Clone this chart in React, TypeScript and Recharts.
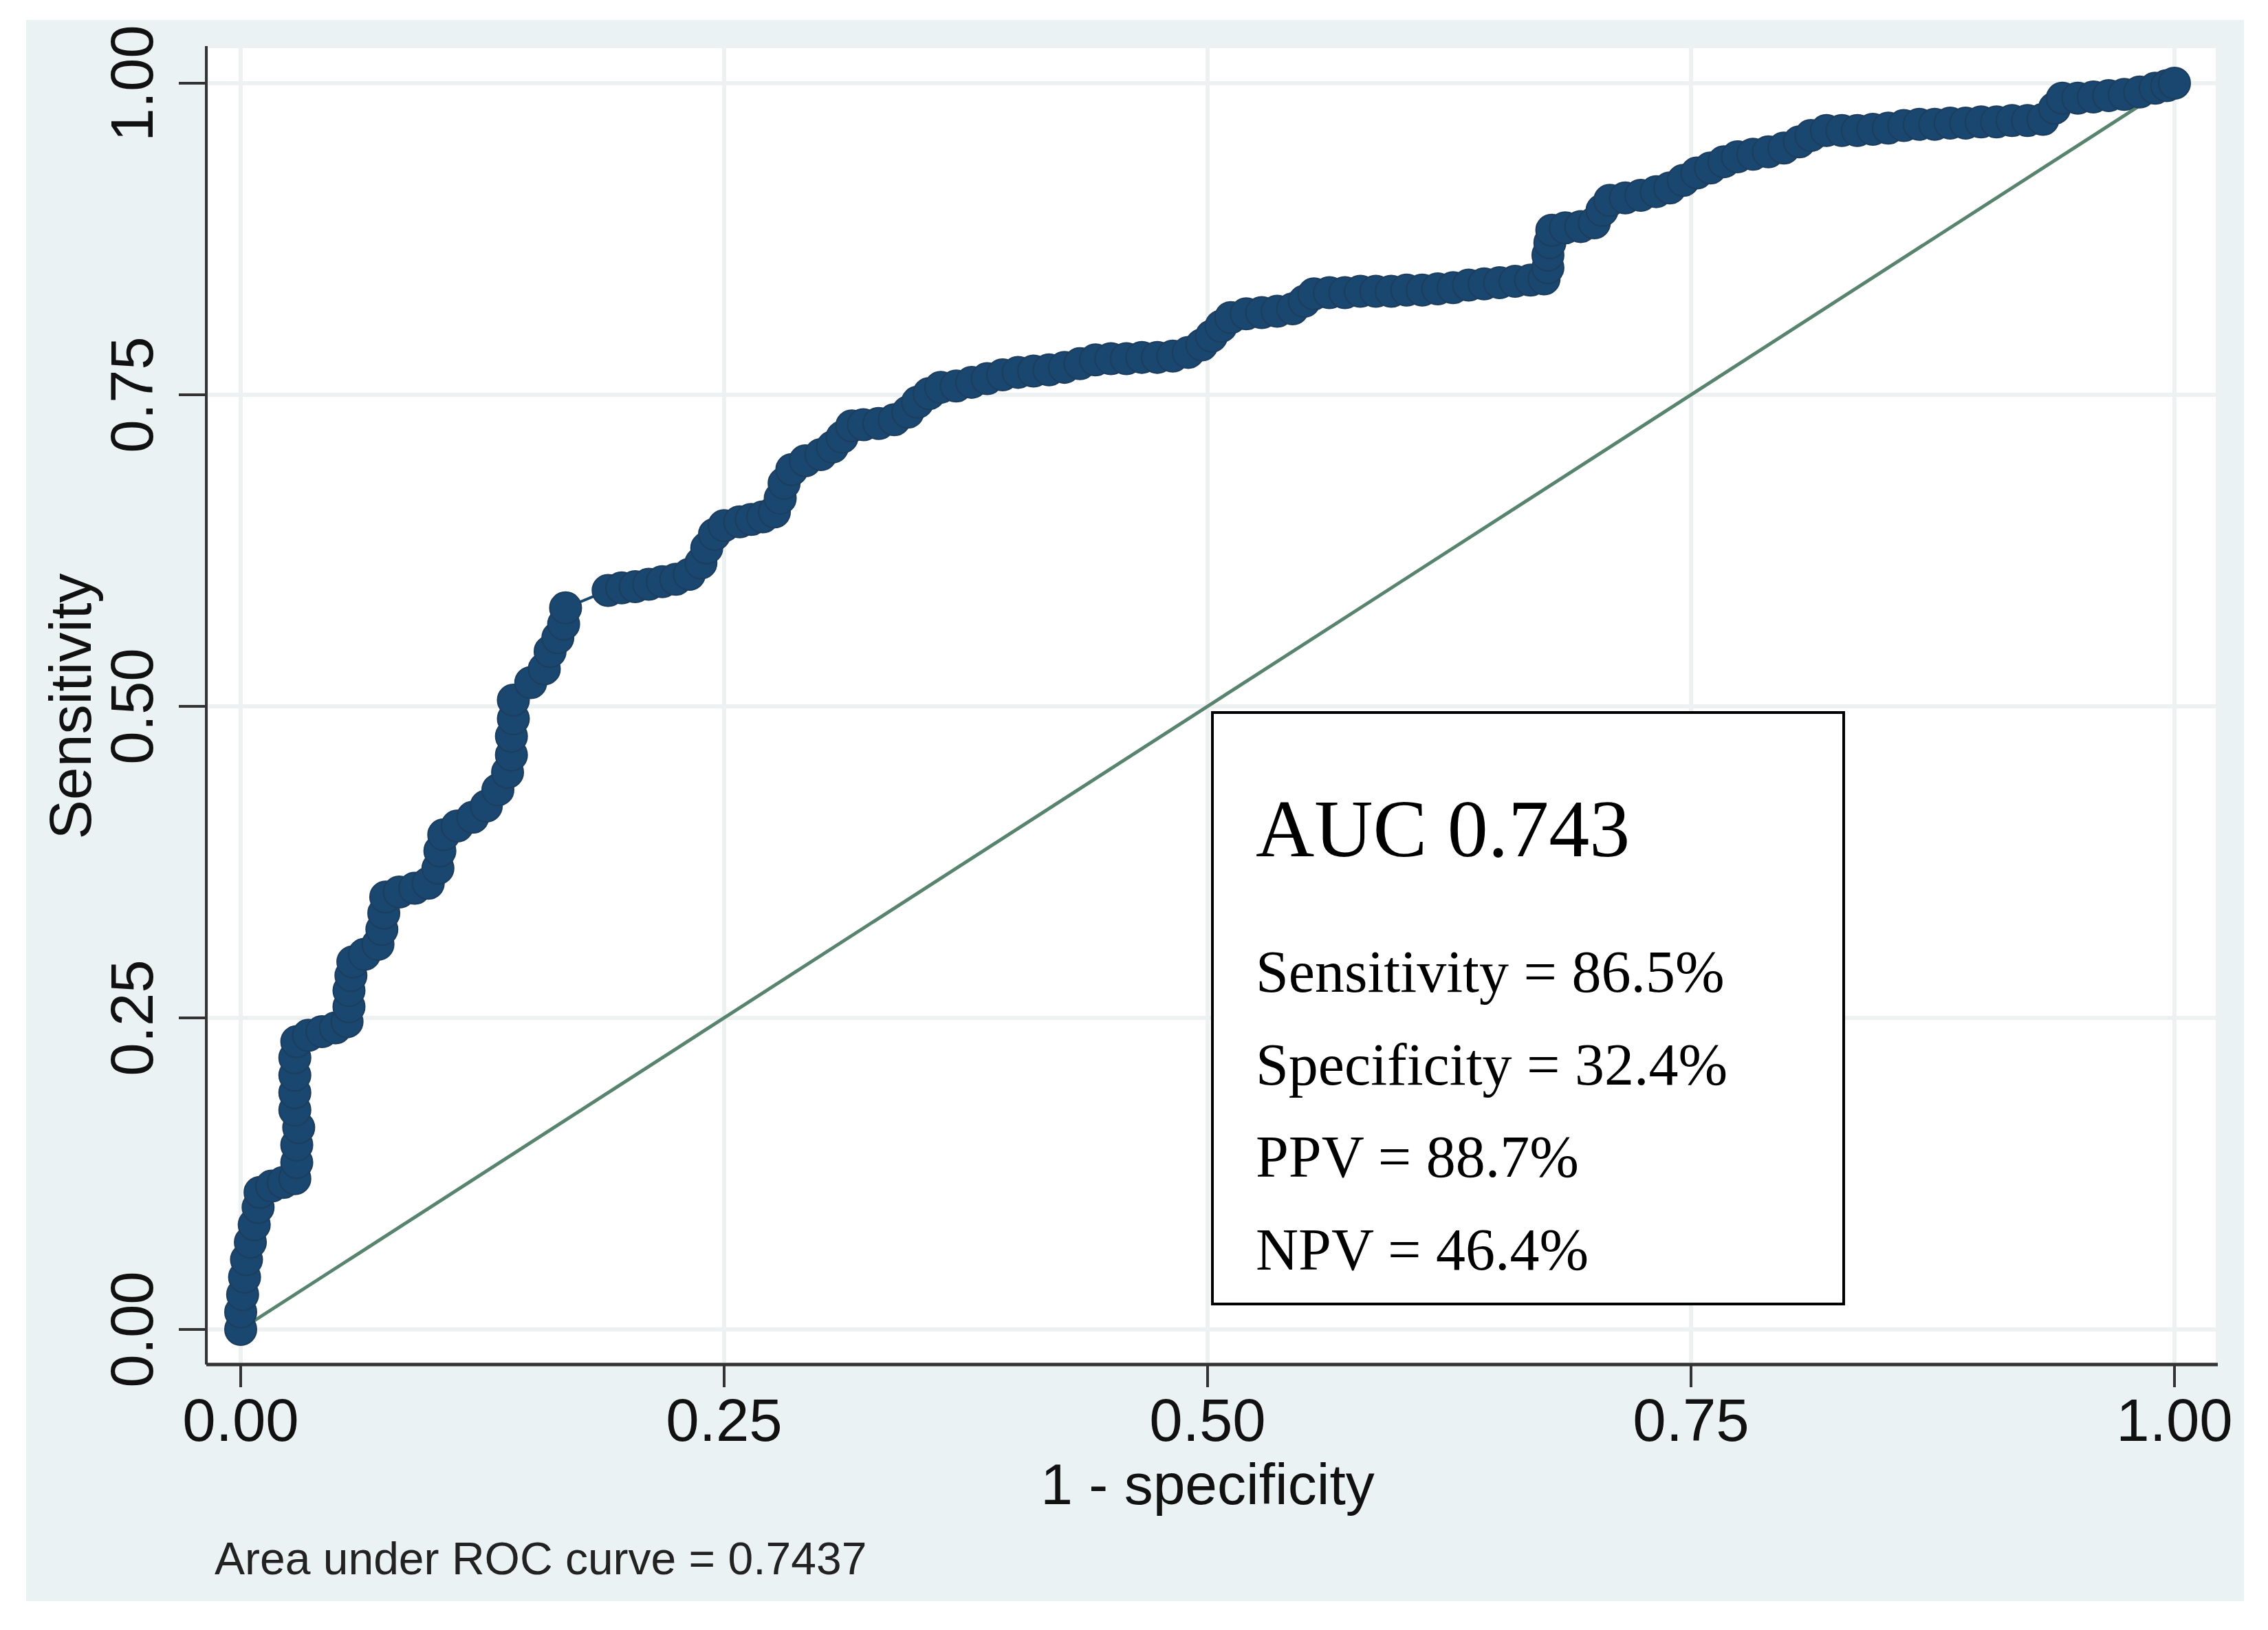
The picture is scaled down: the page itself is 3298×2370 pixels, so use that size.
import { CartesianGrid, Line, LineChart, XAxis, YAxis } from "recharts";

const axisTicks = [0, 0.25, 0.5, 0.75, 1];

// 1 - specificity
const rocFpr = [
  0, 0, 0.001, 0.002, 0.003, 0.005, 0.007, 0.009, 0.01, 0.016, 0.022, 0.028,
  0.029, 0.029, 0.03, 0.028, 0.028, 0.028, 0.028, 0.029, 0.035, 0.042, 0.049,
  0.055, 0.056, 0.056, 0.057, 0.058, 0.064, 0.071, 0.073, 0.074, 0.075, 0.082,
  0.09, 0.097, 0.102, 0.103, 0.105, 0.112, 0.12, 0.127, 0.133, 0.138, 0.14,
  0.14, 0.141, 0.141, 0.15, 0.157, 0.16, 0.164, 0.167, 0.168, 0.19, 0.197,
  0.204, 0.211, 0.218, 0.225, 0.232, 0.238, 0.241, 0.245, 0.25, 0.258, 0.264,
  0.27, 0.276, 0.279, 0.281, 0.285, 0.292, 0.3, 0.306, 0.311, 0.316, 0.322,
  0.33, 0.338, 0.345, 0.35, 0.356, 0.362, 0.37, 0.378, 0.386, 0.394, 0.402,
  0.41, 0.418, 0.426, 0.434, 0.442, 0.45, 0.458, 0.466, 0.474, 0.482, 0.49,
  0.497, 0.502, 0.507, 0.512, 0.52, 0.528, 0.536, 0.544, 0.55, 0.555, 0.563,
  0.571, 0.579, 0.587, 0.595, 0.603, 0.611, 0.619, 0.627, 0.635, 0.643, 0.651,
  0.659, 0.667, 0.674, 0.676, 0.676, 0.677, 0.678, 0.685, 0.693, 0.7, 0.704,
  0.708, 0.716, 0.724, 0.732, 0.739, 0.746, 0.753, 0.76, 0.767, 0.774, 0.782,
  0.79, 0.798, 0.806, 0.812, 0.82, 0.828, 0.836, 0.844, 0.852, 0.86, 0.868,
  0.876, 0.884, 0.892, 0.9, 0.908, 0.916, 0.924, 0.932, 0.938, 0.942, 0.95,
  0.958, 0.966, 0.974, 0.982, 0.99, 0.996, 1,
];

// sensitivity at each of those markers
const rocTpr = [
  0, 0.014, 0.028, 0.042, 0.056, 0.07, 0.084, 0.098, 0.11, 0.115, 0.118, 0.121,
  0.134, 0.148, 0.162, 0.176, 0.19, 0.204, 0.218, 0.231, 0.236, 0.239, 0.242,
  0.247, 0.259, 0.272, 0.284, 0.295, 0.301, 0.309, 0.321, 0.334, 0.347, 0.351,
  0.354, 0.358, 0.37, 0.384, 0.397, 0.404, 0.411, 0.42, 0.433, 0.447, 0.461,
  0.476, 0.49, 0.505, 0.519, 0.53, 0.544, 0.555, 0.566, 0.579, 0.593, 0.595,
  0.596, 0.598, 0.6, 0.602, 0.606, 0.615, 0.627, 0.638, 0.645, 0.648, 0.65,
  0.652, 0.656, 0.667, 0.679, 0.69, 0.697, 0.702, 0.708, 0.716, 0.725, 0.726,
  0.727, 0.73, 0.736, 0.744, 0.751, 0.756, 0.757, 0.76, 0.763, 0.766, 0.768,
  0.769, 0.77, 0.772, 0.775, 0.778, 0.779, 0.779, 0.78, 0.78, 0.781, 0.784,
  0.79, 0.797, 0.805, 0.812, 0.815, 0.816, 0.817, 0.819, 0.825, 0.831, 0.832,
  0.832, 0.833, 0.833, 0.833, 0.834, 0.834, 0.835, 0.836, 0.838, 0.839, 0.84,
  0.841, 0.842, 0.843, 0.852, 0.862, 0.872, 0.882, 0.884, 0.885, 0.888, 0.898,
  0.906, 0.908, 0.91, 0.913, 0.916, 0.922, 0.928, 0.932, 0.937, 0.941, 0.943,
  0.945, 0.948, 0.953, 0.958, 0.962, 0.962, 0.962, 0.963, 0.964, 0.966, 0.967,
  0.967, 0.968, 0.968, 0.969, 0.969, 0.97, 0.97, 0.971, 0.98, 0.988, 0.988,
  0.989, 0.99, 0.991, 0.993, 0.996, 0.998, 1,
];

const referenceFpr = [0, 1];
const referenceTpr = [0, 1];

const statLines = [
  "Sensitivity = 86.5%",
  "Specificity = 32.4%",
  "PPV = 88.7%",
  "NPV = 46.4%",
];

const rocPoints = rocFpr.map((fpr, i) => ({ fpr, tpr: rocTpr[i] }));
const referencePoints = referenceFpr.map((fpr, i) => ({ fpr, tpr: referenceTpr[i] }));

const sans = "'Liberation Sans', Arial, sans-serif";
const serif = "'Liberation Serif', 'Times New Roman', serif";

function XTick(props: any) {
  const { x, y, payload } = props;
  return (
    <text x={x} y={y + 76} textAnchor="middle" fontFamily={sans} fontSize={87} fill="#111">
      {Number(payload.value).toFixed(2)}
    </text>
  );
}

function YTick(props: any) {
  const { y, payload } = props;
  const bx = 222;
  return (
    <text
      x={bx}
      y={y}
      transform={`rotate(-90 ${bx} ${y})`}
      textAnchor="middle"
      fontFamily={sans}
      fontSize={87}
      fill="#111"
    >
      {Number(payload.value).toFixed(2)}
    </text>
  );
}

export default function App() {
  return (
    <div style={{ position: "absolute", left: 0, top: 0, width: 3298, height: 2370, background: "#fff" }}>
      <div
        style={{ position: "absolute", left: 38, top: 29, width: 3225, height: 2299, background: "#eaf2f3" }}
      />
      <div style={{ position: "absolute", left: 0, top: 0 }}>
        <LineChart width={3298} height={2370} margin={{ top: 67, right: 73, bottom: 186, left: 38 }}>
          <CartesianGrid fill="#ffffff" stroke="#eef1f1" strokeWidth={6} />
          <XAxis
            type="number"
            dataKey="fpr"
            domain={[0, 1]}
            ticks={axisTicks}
            padding={{ left: 50, right: 63 }}
            height={200}
            tickSize={33}
            axisLine={{ stroke: "#333", strokeWidth: 5 }}
            tickLine={{ stroke: "#333", strokeWidth: 4 }}
            tick={<XTick />}
            allowDuplicatedCategory={false}
          />
          <YAxis
            type="number"
            domain={[0, 1]}
            ticks={axisTicks}
            padding={{ top: 54, bottom: 51 }}
            width={262}
            tickSize={40}
            axisLine={{ stroke: "#333", strokeWidth: 4 }}
            tickLine={{ stroke: "#333", strokeWidth: 4 }}
            tick={<YTick />}
          />
          <Line
            data={rocPoints}
            dataKey="tpr"
            type="linear"
            stroke="#1a476f"
            strokeWidth={4}
            dot={{ r: 23, fill: "#1a476f", stroke: "#1d3d5e", strokeWidth: 2 }}
            activeDot={false}
            isAnimationActive={false}
          />
          <Line
            data={referencePoints}
            dataKey="tpr"
            type="linear"
            stroke="#58836f"
            strokeWidth={5}
            dot={false}
            activeDot={false}
            isAnimationActive={false}
          />
        </LineChart>
      </div>
      <svg
        width={3298}
        height={2370}
        style={{ position: "absolute", left: 0, top: 0, pointerEvents: "none" }}
      >
        <text
          x={132}
          y={1027}
          transform="rotate(-90 132 1027)"
          textAnchor="middle"
          fontFamily={sans}
          fontSize={86}
          fill="#111"
        >
          Sensitivity
        </text>
        <text x={1756} y={2187} textAnchor="middle" fontFamily={sans} fontSize={84} fill="#111">
          1 - specificity
        </text>
        <text x={312} y={2289} fontFamily={sans} fontSize={66} fill="#222">
          Area under ROC curve = 0.7437
        </text>
        <rect x={1763} y={1036} width={918} height={860} fill="#fff" stroke="#000" strokeWidth={4} />
        <text x={1826} y={1245} fontFamily={serif} fontSize={118} fill="#000">
          AUC 0.743
        </text>
        {statLines.map((s, i) => (
          <text key={s} x={1826} y={1442 + i * 134.5} fontFamily={serif} fontSize={86} fill="#000">
            {s}
          </text>
        ))}
      </svg>
    </div>
  );
}
